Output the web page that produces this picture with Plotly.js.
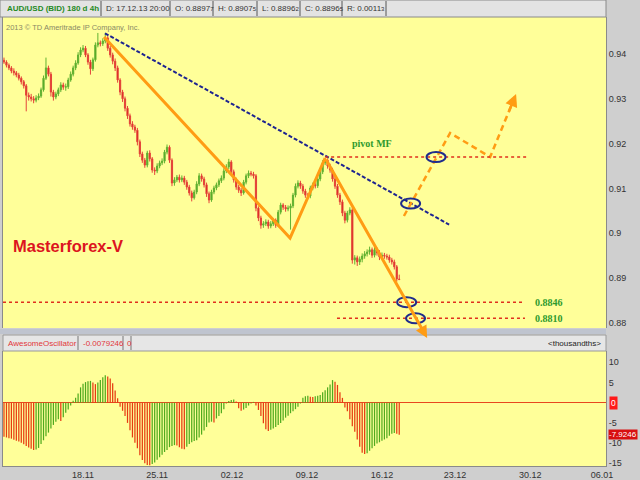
<!DOCTYPE html>
<html><head><meta charset="utf-8">
<script src="https://cdn.plot.ly/plotly-3.0.1.min.js"></script>
<style>html,body{margin:0;padding:0;background:#cfcfcf;}#chart{width:640px;height:480px;}</style>
</head><body><div id="chart"></div>
<script>
// ---------- data (AUD/USD 4h bars) ----------
const open = [0.9386,0.9382,0.9375,0.9369,0.9362,0.9358,0.9353,0.9346,0.9338,0.9329,
0.9308,0.9304,0.9300,0.9297,0.9302,0.9306,0.9320,0.9346,0.9369,0.9355,
0.9315,0.9304,0.9311,0.9320,0.9331,0.9326,0.9327,0.9342,0.9355,0.9369,
0.9380,0.9398,0.9409,0.9413,0.9398,0.9382,0.9367,0.9387,0.9420,0.9425,
0.9423,0.9429,0.9436,0.9413,0.9398,0.9384,0.9369,0.9342,0.9315,0.9300,
0.9279,0.9262,0.9244,0.9237,0.9230,0.9204,0.9177,0.9163,0.9152,0.9179,
0.9166,0.9141,0.9139,0.9150,0.9157,0.9161,0.9181,0.9192,0.9163,0.9112,
0.9119,0.9125,0.9119,0.9123,0.9114,0.9103,0.9090,0.9079,0.9092,0.9110,
0.9128,0.9121,0.9108,0.9088,0.9074,0.9092,0.9101,0.9108,0.9117,0.9123,
0.9139,0.9148,0.9159,0.9137,0.9119,0.9103,0.9096,0.9090,0.9114,0.9128,
0.9134,0.9132,0.9128,0.9056,0.9034,0.9018,0.9021,0.9025,0.9016,0.9021,
0.9029,0.9018,0.9047,0.9063,0.9058,0.9054,0.9056,0.9061,0.9085,0.9105,
0.9112,0.9105,0.9094,0.9085,0.9083,0.9101,0.9108,0.9106,0.9121,0.9137,
0.9157,0.9163,0.9150,0.9141,0.9121,0.9105,0.9085,0.9070,0.9045,0.9029,
0.9045,0.9052,0.8940,0.8945,0.8936,0.8942,0.8949,0.8954,0.8958,0.8963,
0.8951,0.8963,0.8956,0.8947,0.8951,0.8949,0.8947,0.8940,0.8936,0.8925,
0.88977];
const high = [0.9392,0.9386,0.9379,0.9373,0.9368,0.9362,0.9358,0.9350,0.9342,0.9333,
0.9314,0.9311,0.9306,0.9308,0.9312,0.9325,0.9352,0.9392,0.9374,0.9360,
0.9320,0.9316,0.9325,0.9337,0.9336,0.9334,0.9347,0.9361,0.9374,0.9386,
0.9404,0.9415,0.9420,0.9418,0.9402,0.9387,0.9392,0.9426,0.9447,0.9430,
0.9435,0.9447,0.9440,0.9418,0.9403,0.9390,0.9374,0.9346,0.9320,0.9305,
0.9284,0.9267,0.9250,0.9242,0.9235,0.9209,0.9182,0.9168,0.9184,0.9185,
0.9170,0.9147,0.9156,0.9162,0.9167,0.9186,0.9198,0.9196,0.9167,0.9125,
0.9130,0.9131,0.9129,0.9128,0.9119,0.9108,0.9095,0.9097,0.9116,0.9134,
0.9133,0.9126,0.9113,0.9093,0.9097,0.9106,0.9113,0.9122,0.9129,0.9145,
0.9154,0.9166,0.9163,0.9142,0.9124,0.9108,0.9101,0.9119,0.9133,0.9140,
0.9139,0.9137,0.9132,0.9060,0.9039,0.9027,0.9031,0.9030,0.9027,0.9034,
0.9033,0.9052,0.9068,0.9067,0.9063,0.9062,0.9066,0.9090,0.9111,0.9118,
0.9117,0.9110,0.9099,0.9090,0.9106,0.9113,0.9113,0.9126,0.9142,0.9163,
0.9168,0.9167,0.9155,0.9146,0.9126,0.9110,0.9090,0.9075,0.9050,0.9050,
0.9058,0.9056,0.8951,0.8950,0.8948,0.8955,0.8960,0.8964,0.8970,0.8968,
0.8969,0.8968,0.8962,0.8957,0.8956,0.8954,0.8952,0.8945,0.8941,0.8929,
0.89075];
const low = [0.9378,0.9370,0.9364,0.9357,0.9352,0.9348,0.9341,0.9332,0.9323,0.9272,
0.9296,0.9294,0.9290,0.9292,0.9297,0.9302,0.9316,0.9342,0.9350,0.9305,
0.9296,0.9299,0.9306,0.9315,0.9320,0.9318,0.9322,0.9338,0.9350,0.9364,
0.9376,0.9393,0.9404,0.9393,0.9376,0.9354,0.9362,0.9383,0.9415,0.9417,
0.9418,0.9424,0.9407,0.9392,0.9377,0.9362,0.9336,0.9308,0.9293,0.9272,
0.9255,0.9238,0.9231,0.9224,0.9196,0.9170,0.9157,0.9146,0.9147,0.9160,
0.9135,0.9130,0.9134,0.9145,0.9152,0.9156,0.9176,0.9157,0.9105,0.9106,
0.9114,0.9113,0.9114,0.9108,0.9097,0.9084,0.9071,0.9075,0.9087,0.9105,
0.9115,0.9102,0.9081,0.9067,0.9070,0.9087,0.9096,0.9103,0.9112,0.9118,
0.9134,0.9143,0.9131,0.9113,0.9097,0.9090,0.9083,0.9086,0.9109,0.9123,
0.9127,0.9122,0.9049,0.9027,0.9010,0.9012,0.9016,0.9010,0.9011,0.9016,
0.9012,0.9014,0.9042,0.9052,0.9048,0.9049,0.9008,0.9056,0.9080,0.9100,
0.9099,0.9088,0.9079,0.9076,0.9078,0.9096,0.9100,0.9101,0.9116,0.9132,
0.9152,0.9144,0.9135,0.9115,0.9099,0.9079,0.9063,0.9038,0.9022,0.9024,
0.9040,0.8932,0.8930,0.8927,0.8929,0.8935,0.8943,0.8948,0.8952,0.8945,
0.8946,0.8950,0.8940,0.8942,0.8943,0.8941,0.8934,0.8930,0.8919,0.8892,
0.88962];
const close = [0.9382,0.9375,0.9369,0.9362,0.9358,0.9353,0.9346,0.9338,0.9329,0.9308,
0.9304,0.9300,0.9297,0.9302,0.9306,0.9320,0.9346,0.9369,0.9355,0.9315,
0.9304,0.9311,0.9320,0.9331,0.9326,0.9327,0.9342,0.9355,0.9369,0.9380,
0.9398,0.9409,0.9413,0.9398,0.9382,0.9367,0.9387,0.9420,0.9425,0.9423,
0.9429,0.9436,0.9413,0.9398,0.9384,0.9369,0.9342,0.9315,0.9300,0.9279,
0.9262,0.9244,0.9237,0.9230,0.9204,0.9177,0.9163,0.9152,0.9179,0.9166,
0.9141,0.9139,0.9150,0.9157,0.9161,0.9181,0.9192,0.9163,0.9112,0.9119,
0.9125,0.9119,0.9123,0.9114,0.9103,0.9090,0.9079,0.9092,0.9110,0.9128,
0.9121,0.9108,0.9088,0.9074,0.9092,0.9101,0.9108,0.9117,0.9123,0.9139,
0.9148,0.9159,0.9137,0.9119,0.9103,0.9096,0.9090,0.9114,0.9128,0.9134,
0.9132,0.9128,0.9056,0.9034,0.9018,0.9021,0.9025,0.9016,0.9021,0.9029,
0.9018,0.9047,0.9063,0.9058,0.9054,0.9056,0.9061,0.9085,0.9105,0.9112,
0.9105,0.9094,0.9085,0.9083,0.9101,0.9108,0.9106,0.9121,0.9137,0.9157,
0.9163,0.9150,0.9141,0.9121,0.9105,0.9085,0.9070,0.9045,0.9029,0.9045,
0.9052,0.8940,0.8945,0.8936,0.8942,0.8949,0.8954,0.8958,0.8963,0.8951,
0.8963,0.8956,0.8947,0.8951,0.8949,0.8947,0.8940,0.8936,0.8925,0.8898,
0.88965];
// Awesome Oscillator (thousandths)
const ao = [-8.4,-8.6,-8.8,-8.9,-9.2,-9.4,-9.6,-9.9,-10.3,-10.7,
-11.1,-11.4,-11.7,-11.6,-11.2,-10.2,-9.3,-8.3,-7.4,-6.4,
-5.5,-4.7,-4.1,-4.5,-3.6,-2.5,-1.7,-0.7,0.5,1.2,
2.3,3.8,4.7,5.1,5.3,5.4,5.0,4.6,5.0,5.6,
6.3,6.8,6.5,6.0,4.8,3.0,1.1,-1.0,-2.0,-3.3,
-5.0,-6.8,-8.6,-9.9,-11.3,-13.0,-14.2,-15.0,-15.4,-15.5,
-15.2,-14.8,-14.1,-13.5,-12.9,-12.2,-11.7,-11.0,-10.7,-10.5,
-10.6,-11.0,-11.4,-11.5,-10.9,-10.2,-9.8,-9.5,-9.3,-8.6,
-7.9,-6.9,-6.0,-4.9,-4.7,-4.9,-3.9,-3.3,-2.6,-1.6,
-0.2,0.4,0.7,0.8,0.3,-1.4,-2.0,-1.7,-1.3,-0.7,
-0.2,0.2,-0.7,-1.8,-3.3,-5.1,-6.6,-7.0,-6.7,-6.4,
-6.0,-5.5,-5.0,-4.4,-3.7,-3.2,-2.6,-2.1,-1.6,-1.0,
-0.2,1.2,1.6,1.7,1.5,1.4,1.6,1.7,1.9,2.6,
3.1,3.8,4.5,5.6,5.2,4.4,2.6,1.2,-1.2,-2.1,
-4.1,-5.8,-7.2,-9.1,-10.9,-12.4,-12.7,-12.5,-11.9,-11.3,
-10.7,-10.1,-9.8,-9.4,-9.1,-8.8,-8.2,-7.7,-7.5,-7.7,
-7.9246];
// x axis: bar-number positions of the week labels
const tickIdx = [32.0, 62.0, 92.3, 122.7, 153.0, 182.6, 213.0, 242.1];
const tickLabels = ['18.11','25.11','02.12','09.12','16.12','23.12','30.12','06.01'];
const priceTicks = [0.88,0.89,0.90,0.91,0.92,0.93,0.94];
const priceTickText = ['0.88','0.89','0.9','0.91','0.92','0.93','0.94'];
const aoTicks = [-15,-10,-5,5,10];
// hand-drawn analysis (bar number, price)
const trendX = [40.9, 180.2], trendY = [0.94462, 0.90192];
const waveX = [40.5, 115.8, 130.0, 171.3], waveY = [0.94379, 0.89893, 0.91679, 0.87661];
const planX = [161.9, 180.6, 196.8, 207.3], planY = [0.90384, 0.92237, 0.91701, 0.93107];
const levelVal = [0.9170, 0.8846, 0.8810];
const levelFrom = [130.0, -0.4, 134.8];
const levelTo = [211.7, 210.9, 210.9];
const markX = [164.6, 174.9, 163.0, 166.6], markY = [0.90663, 0.9170, 0.8846, 0.8810];
const header = ['D: 17.12.13 20:00', 'O: 0.8897|7', 'H: 0.8907|5', 'L: 0.8896|2', 'C: 0.8896|5', 'R: 0.0011|3'];

// ---------- build ----------
const N = close.length;
const idx = close.map((_, i) => i);
const GREEN = '#4faa1e', RED = '#e63a12';
const aoColors = ao.map((v, i) => (i > 0 && v > ao[i - 1]) ? GREEN : RED);
const SANS = 'Liberation Sans, Arial, sans-serif';
const SERIF = 'Liberation Serif, Times New Roman, serif';
const px = v => (v - 3) / 603;
const py = v => (466 - v) / 449;

const traces = [
  {type: 'candlestick', x: idx, open: open, high: high, low: low, close: close,
   xaxis: 'x', yaxis: 'y', whiskerwidth: 0, hoverinfo: 'skip',
   increasing: {line: {color: '#62b232', width: 1}, fillcolor: '#4a9e1e'},
   decreasing: {line: {color: '#e4443a', width: 1}, fillcolor: '#d20c0c'}},
  {type: 'bar', x: idx, y: ao, xaxis: 'x', yaxis: 'y2', width: 0.5,
   marker: {color: aoColors, line: {width: 0}}, hoverinfo: 'skip'},
  {type: 'scatter', mode: 'lines', x: trendX, y: trendY, yaxis: 'y',
   line: {color: '#1e2490', width: 2, dash: '4px,2px'}, hoverinfo: 'skip'},
  {type: 'scatter', mode: 'lines', x: waveX.slice(0, 3), y: waveY.slice(0, 3), yaxis: 'y',
   line: {color: '#ff9c14', width: 3}, hoverinfo: 'skip'},
  {type: 'scatter', mode: 'lines', x: planX, y: planY, yaxis: 'y',
   line: {color: '#ff9c14', width: 2.5, dash: '6px,4px'}, hoverinfo: 'skip'}
];
levelVal.forEach((v, k) => {
  traces.push({type: 'scatter', mode: 'lines', x: [levelFrom[k], levelTo[k]], y: [v, v], yaxis: 'y',
    line: {color: '#e0301e', width: 1.5, dash: 'dot'}, hoverinfo: 'skip'});
});

const shapes = [
  {type: 'rect', xref: 'paper', yref: 'paper', x0: px(0), x1: px(606), y0: py(17), y1: py(0),
   fillcolor: '#e3e3e3', line: {color: '#8a8a8a', width: 1}, layer: 'above'},
  {type: 'rect', xref: 'paper', yref: 'paper', x0: px(3), x1: px(606), y0: py(351), y1: py(335),
   fillcolor: '#e6e6e6', line: {color: '#9a9a9a', width: 1}},
  {type: 'rect', xref: 'paper', yref: 'paper', x0: px(0), x1: px(606), y0: py(334), y1: py(329),
   fillcolor: '#bfc4cf', line: {width: 0}}
];
[101, 170, 213, 257, 300, 342, 386].forEach(x => shapes.push(
  {type: 'line', xref: 'paper', yref: 'paper', x0: px(x), x1: px(x), y0: py(16), y1: py(1),
   line: {color: '#555', width: 1}, layer: 'above'}));
[78, 123, 131].forEach(x => shapes.push(
  {type: 'line', xref: 'paper', yref: 'paper', x0: px(x), x1: px(x), y0: py(350), y1: py(336),
   line: {color: '#777', width: 1}}));
markX.forEach((x, k) => shapes.push(
  {type: 'circle', xref: 'x', yref: 'y', xsizemode: 'pixel', ysizemode: 'pixel',
   xanchor: x, yanchor: markY[k], x0: -9.5, x1: 9.5, y0: -5, y1: 5,
   line: {color: '#1f2c8c', width: 2}, layer: 'above'}));

const ann = [];
function addText(text, x, y, opts) {
  ann.push(Object.assign({text: text, x: x, y: y, xref: 'paper', yref: 'paper', showarrow: false,
    xanchor: 'left', yanchor: 'middle', font: {family: SANS, size: 8, color: '#333'}}, opts || {}));
}
addText('<b>AUD/USD (BID) 180 d 4h</b>', px(5), py(8.5), {font: {family: SANS, size: 8, color: '#1f8a1f'}});
const headX = [104, 173, 216, 260, 303, 345];
header.forEach((h, k) => {
  const parts = h.split('|');
  const t = parts.length > 1 ? parts[0] + '<span style="font-size:6px">' + parts[1] + '</span>' : parts[0];
  addText(t, px(headX[k]), py(8.5));
});
addText('2013 © TD Ameritrade IP Company, Inc.', px(4), py(27), {font: {family: SANS, size: 7.5, color: '#8a8a66'}});
addText('<b>Masterforex-V</b>', px(11), py(246), {font: {family: SANS, size: 16.5, color: '#dc1420'}});
addText('AwesomeOscillator', px(6), py(343), {font: {family: SANS, size: 8, color: '#e2363a'}});
addText(String((ao[N - 1] / 1000).toFixed(7)), px(81), py(343), {font: {family: SANS, size: 8, color: '#e2363a'}});
addText('0', px(125), py(343), {font: {family: SANS, size: 8, color: '#e2363a'}});
addText('<thousandths>', px(603), py(343), {xanchor: 'right', font: {family: SANS, size: 8, color: '#222'}});
ann.push({text: '0', x: px(609), y: 0, xref: 'paper', yref: 'y2', showarrow: false, xanchor: 'left',
  yanchor: 'middle', bgcolor: '#ff1a1a', borderpad: 1, font: {family: SANS, size: 8.5, color: '#fff'}});
ann.push({text: String(ao[N - 1]), x: px(608), y: ao[N - 1], xref: 'paper', yref: 'y2', showarrow: false,
  xanchor: 'left', yanchor: 'middle', bgcolor: '#d81010', borderpad: 0, font: {family: SANS, size: 8, color: '#fff'}});
ann.push({text: '<b>pivot MF</b>', x: 149, y: 0.9201, xref: 'x', yref: 'y', showarrow: false,
  font: {family: SERIF, size: 10, color: '#2e9a2e'}});
levelVal.slice(1).forEach(v => ann.push({text: '<b>' + v.toFixed(4) + '</b>', x: 214.2, y: v, xref: 'x', yref: 'y',
  showarrow: false, xanchor: 'left', yanchor: 'middle', font: {family: SERIF, size: 10, color: '#2e9a2e'}}));
ann.push({text: '', x: waveX[3], y: waveY[3], ax: waveX[2], ay: waveY[2], xref: 'x', yref: 'y', axref: 'x', ayref: 'y',
  showarrow: true, arrowhead: 2, arrowsize: 0.8, arrowwidth: 3, arrowcolor: '#ff9c14', standoff: 0});
const n = planX.length;
const tailX = planX[n - 2] + (planX[n - 1] - planX[n - 2]) * 0.7;
const tailY = planY[n - 2] + (planY[n - 1] - planY[n - 2]) * 0.7;
ann.push({text: '', x: planX[n - 1], y: planY[n - 1], ax: tailX, ay: tailY, xref: 'x', yref: 'y', axref: 'x', ayref: 'y',
  showarrow: true, arrowhead: 2, arrowsize: 1, arrowwidth: 2.5, arrowcolor: '#ff9c14', standoff: 0});

const tf = {family: SANS, size: 9, color: '#333'};
const layout = {
  width: 640, height: 480, showlegend: false,
  margin: {l: 3, r: 34, t: 17, b: 14, pad: 0},
  paper_bgcolor: '#cfcfcf', plot_bgcolor: '#ffff99',
  font: tf,
  xaxis: {range: [-0.4, 243.7], anchor: 'y2', tickmode: 'array', tickvals: tickIdx, ticktext: tickLabels,
    ticks: '', showgrid: false, zeroline: false, rangeslider: {visible: false},
    showline: true, linecolor: '#8a8a8a', tickfont: tf},
  yaxis: {domain: [0.30735, 1], side: 'right', range: [0.87884, 0.94826], tickmode: 'array',
    tickvals: priceTicks, ticktext: priceTickText, ticks: '', showgrid: false, zeroline: false,
    showline: true, mirror: true, linecolor: '#8a8a8a', tickfont: tf},
  yaxis2: {domain: [0, 0.25612], side: 'right', anchor: 'x', range: [-15.67, 12.8], tickmode: 'array',
    tickvals: aoTicks, ticktext: aoTicks.map(String), ticks: '', showgrid: false,
    zeroline: true, zerolinecolor: '#e8481e', zerolinewidth: 1.5,
    showline: true, mirror: true, linecolor: '#8a8a8a', tickfont: tf},
  shapes: shapes, annotations: ann
};
Plotly.newPlot('chart', traces, layout, {staticPlot: true, displayModeBar: false});
</script></body></html>
